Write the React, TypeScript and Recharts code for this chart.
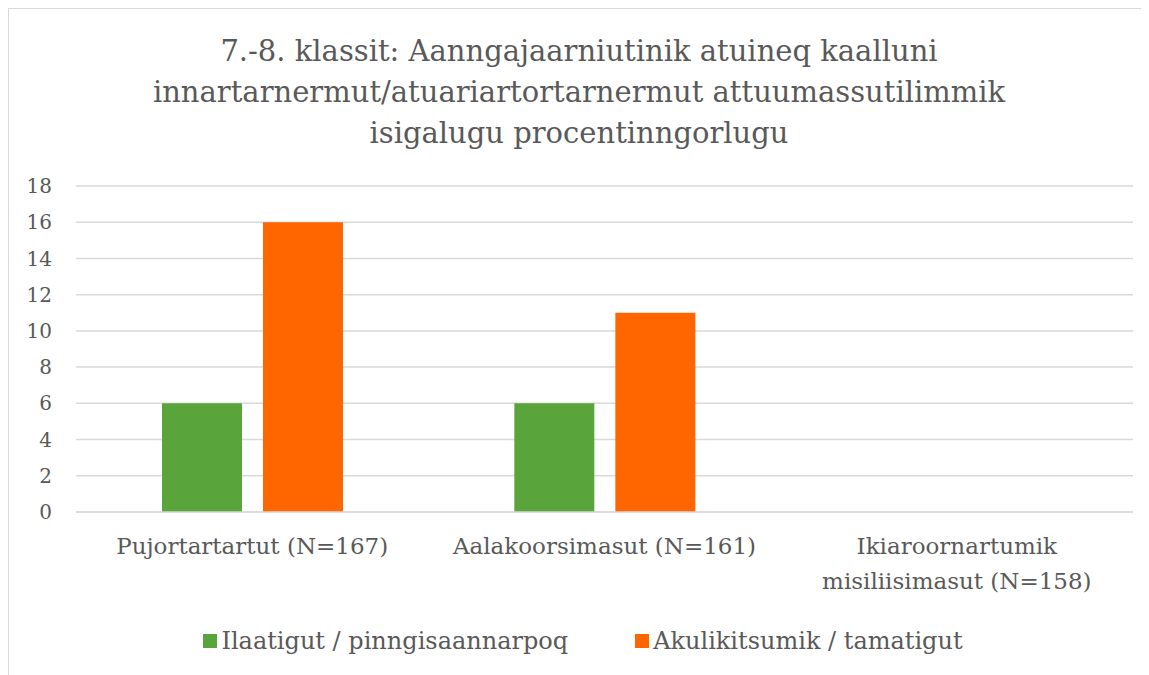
import React from "react";
import { Bar, BarChart, CartesianGrid, Legend, XAxis, YAxis } from "recharts";

const categories = [
	"Pujortartartut (N=167)",
	"Aalakoorsimasut (N=161)",
	"Ikiaroornartumik misiliisimasut (N=158)",
];
const ilaatigut = [6, 6, 0];
const akulikitsumik = [16, 11, 0];
const yTicks = [0, 2, 4, 6, 8, 10, 12, 14, 16, 18];

const seriesNames = ["Ilaatigut / pinngisaannarpoq", "Akulikitsumik / tamatigut"];
const colors = ["#59A43B", "#FF6600"];

const titleLines = [
	"7.-8. klassit: Aanngajaarniutinik atuineq kaalluni",
	"innartarnermut/atuariartortarnermut attuumassutilimmik",
	"isigalugu procentinngorlugu",
];

const data = categories.map((name, i) => ({
	name,
	a: ilaatigut[i],
	b: akulikitsumik[i],
}));

const serif = "'DejaVu Serif', 'Liberation Serif', serif";
const textColor = "#595959";

// wrap long labels into lines of at most ~24 characters
function wrap(label: string, max = 24) {
	const lines: string[] = [];
	let cur = "";
	label.split(" ").forEach((w) => {
		if (cur && (cur + " " + w).length > max) {
			lines.push(cur);
			cur = w;
		} else {
			cur = cur ? cur + " " + w : w;
		}
	});
	if (cur) lines.push(cur);
	return lines;
}

function CategoryTick(props: any) {
	const { x, y, payload } = props;
	return (
		<text
			x={x}
			y={y}
			textAnchor='middle'
			fill={textColor}
			style={{ fontFamily: serif, fontSize: 23 }}
		>
			{wrap(payload.value).map((l, i) => (
				<tspan key={i} x={x} dy={i === 0 ? "0.95em" : 35}>
					{l}
				</tspan>
			))}
		</text>
	);
}

function LegendBox() {
	return (
		<div
			style={{
				height: 56,
				display: "flex",
				justifyContent: "center",
				alignItems: "center",
				paddingLeft: 24,
				fontFamily: serif,
				fontSize: 24,
				color: textColor,
			}}
		>
			{seriesNames.map((n, i) => (
				<span
					key={n}
					style={{ display: "flex", alignItems: "center", marginRight: i === 0 ? 67 : 0 }}
				>
					<span
						style={{
							width: 14,
							height: 14,
							background: colors[i],
							display: "inline-block",
							marginRight: 4,
						}}
					/>
					{n}
				</span>
			))}
		</div>
	);
}

export default function App() {
	return (
		<div
			style={{
				position: "relative",
				width: 1140,
				height: 666,
				borderLeft: "1px solid #d9d9d9",
				borderTop: "1px solid #d9d9d9",
				background: "#fff",
			}}
		>
			<div
				style={{
					position: "absolute",
					top: 22,
					left: 0,
					width: 1140,
					textAlign: "center",
					fontFamily: serif,
					fontSize: 29,
					lineHeight: "41px",
					color: textColor,
				}}
			>
				{titleLines.map((l) => (
					<div key={l}>{l}</div>
				))}
			</div>
			<BarChart
				width={1140}
				height={666}
				data={data}
				margin={{ top: 177, right: 16, left: 0, bottom: 6 }}
				barGap={21}
				barSize={80}
			>
				<CartesianGrid vertical={false} stroke='#d9d9d9' strokeWidth={1.5} />
				<XAxis
					dataKey='name'
					height={101}
					axisLine={{ stroke: "#d9d9d9", strokeWidth: 1.5 }}
					tickLine={false}
					tickSize={0}
					tickMargin={20}
					interval={0}
					tick={<CategoryTick />}
				/>
				<YAxis
					width={67}
					domain={[0, 18]}
					ticks={yTicks}
					axisLine={false}
					tickLine={false}
					tickSize={0}
					tickMargin={24}
					tick={{ fill: textColor, fontFamily: serif, fontSize: 20 }}
				/>
				<Legend verticalAlign='bottom' height={56} content={<LegendBox />} />
				<Bar dataKey='a' name={seriesNames[0]} fill={colors[0]} isAnimationActive={false} />
				<Bar dataKey='b' name={seriesNames[1]} fill={colors[1]} isAnimationActive={false} />
			</BarChart>
		</div>
	);
}
